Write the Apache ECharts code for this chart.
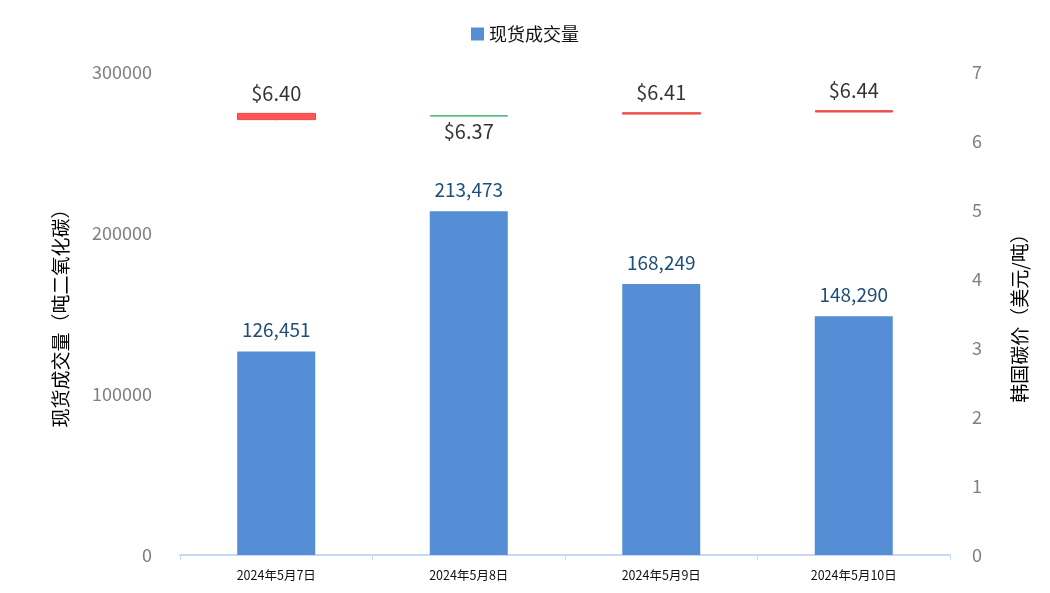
<!DOCTYPE html>
<html><head><meta charset="utf-8">
<script src="https://cdn.jsdelivr.net/npm/echarts@6/dist/echarts.min.js"></script>
<style>html,body{margin:0;padding:0;background:#fff}#c{width:1050px;height:593px}</style>
</head><body><div id="c"></div>
<script>
const categories = ['2024年5月7日','2024年5月8日','2024年5月9日','2024年5月10日'];
const volume = [126451, 213473, 168249, 148290];
// [open, close, low, high]
const price = [[6.31, 6.40, 6.30, 6.40],[6.37, 6.36, 6.36, 6.38],[6.39, 6.41, 6.39, 6.41],[6.42, 6.44, 6.42, 6.44]];
const priceLabel = [6.40, 6.37, 6.41, 6.44];

const chart = echarts.init(document.getElementById('c'));
const font = '"Microsoft YaHei","Noto Sans CJK SC",sans-serif';
chart.setOption({
  animation:false,
  textStyle:{fontFamily:font},
  legend:{top:20,left:'center',data:['现货成交量'],itemWidth:13,itemHeight:13,icon:'rect',
    textStyle:{fontSize:18,color:'#111'}},
  grid:{left:180,right:100,top:72,bottom:38},
  xAxis:{type:'category',data:categories,
    axisLine:{lineStyle:{color:'#C8DAF2',width:2}},
    axisTick:{show:true,alignWithLabel:false,lineStyle:{color:'#C8DAF2'}},
    axisLabel:{fontSize:12.5,color:'#111',margin:14}},
  yAxis:[
    {type:'value',min:0,max:300000,interval:100000,
      name:'现货成交量（吨二氧化碳）',nameLocation:'middle',nameGap:110,nameRotate:90,
      nameTextStyle:{fontSize:19,color:'#000'},
      axisLabel:{fontSize:18,color:'#808080',margin:28,formatter:v=>String(v)},
      splitLine:{show:false},axisLine:{show:false},axisTick:{show:false}},
    {type:'value',min:0,max:7,interval:1,
      name:'韩国碳价（美元/吨）',nameLocation:'middle',nameGap:60,nameRotate:90,
      nameTextStyle:{fontSize:19,color:'#000'},
      axisLabel:{fontSize:18,color:'#808080',margin:22},
      splitLine:{show:false},axisLine:{show:false},axisTick:{show:false}}
  ],
  series:[
    {name:'现货成交量',type:'bar',data:volume,barWidth:78,
      itemStyle:{color:'#558ED5'},
      label:{show:true,position:'top',distance:12,fontSize:19,color:'#1F4E79',
        formatter:p=>p.value.toLocaleString('en-US')}},
    {name:'韩国碳价',type:'candlestick',yAxisIndex:1,data:price,barWidth:78,
      itemStyle:{color:'#FF5555',color0:'#5DBB8A',borderColor:'#E84848',borderColor0:'#5DBB8A',borderWidth:1},
      z:3},
    {name:'价格标签',type:'scatter',yAxisIndex:1,symbolSize:0,
      data:priceLabel.map((v,i)=>({value:v,label:{position: i===1?'bottom':'top',distance: i===1?6:10}})),
      label:{show:true,fontSize:20,color:'#000',formatter:p=>'$'+p.value.toFixed(2)},
      z:4}
  ]
});
</script></body></html>
